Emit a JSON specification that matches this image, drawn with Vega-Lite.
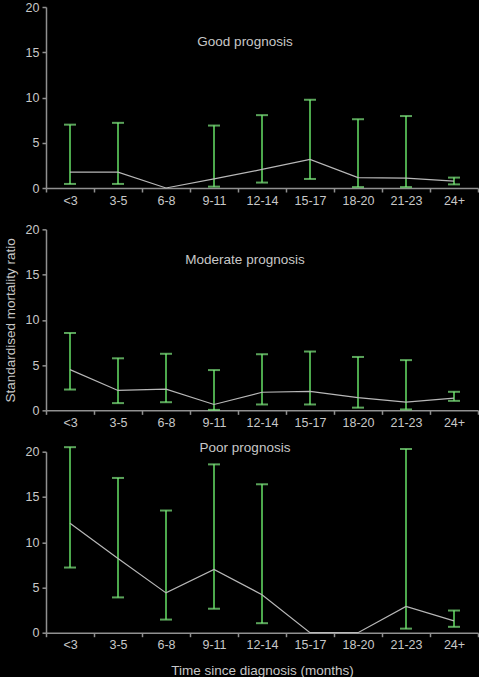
{
  "$schema": "https://vega.github.io/schema/vega-lite/v6.json",
  "background": "black",
  "padding": {"left": 3, "top": 1, "right": 0, "bottom": 0},
  "datasets": {
    "smr": [
      {"panel": "Good prognosis", "period": "<3", "smr": 1.75, "lower": 0.45, "upper": 7.0},
      {"panel": "Good prognosis", "period": "3-5", "smr": 1.75, "lower": 0.45, "upper": 7.2},
      {"panel": "Good prognosis", "period": "6-8", "smr": 0, "lower": null, "upper": null},
      {"panel": "Good prognosis", "period": "9-11", "smr": 1.0, "lower": 0.15, "upper": 6.9},
      {"panel": "Good prognosis", "period": "12-14", "smr": 2.05, "lower": 0.6, "upper": 8.05},
      {"panel": "Good prognosis", "period": "15-17", "smr": 3.15, "lower": 1.0, "upper": 9.75},
      {"panel": "Good prognosis", "period": "18-20", "smr": 1.15, "lower": 0.1, "upper": 7.6},
      {"panel": "Good prognosis", "period": "21-23", "smr": 1.1, "lower": 0.1, "upper": 7.95},
      {"panel": "Good prognosis", "period": "24+", "smr": 0.75, "lower": 0.4, "upper": 1.15},
      {"panel": "Moderate prognosis", "period": "<3", "smr": 4.5, "lower": 2.3, "upper": 8.55},
      {"panel": "Moderate prognosis", "period": "3-5", "smr": 2.2, "lower": 0.8, "upper": 5.75},
      {"panel": "Moderate prognosis", "period": "6-8", "smr": 2.35, "lower": 0.9, "upper": 6.25},
      {"panel": "Moderate prognosis", "period": "9-11", "smr": 0.65, "lower": 0.05, "upper": 4.45},
      {"panel": "Moderate prognosis", "period": "12-14", "smr": 2.0, "lower": 0.65, "upper": 6.2},
      {"panel": "Moderate prognosis", "period": "15-17", "smr": 2.1, "lower": 0.65, "upper": 6.5},
      {"panel": "Moderate prognosis", "period": "18-20", "smr": 1.4, "lower": 0.3, "upper": 5.9},
      {"panel": "Moderate prognosis", "period": "21-23", "smr": 0.9, "lower": 0.1, "upper": 5.55},
      {"panel": "Moderate prognosis", "period": "24+", "smr": 1.35, "lower": 1.05, "upper": 2.05},
      {"panel": "Poor prognosis", "period": "<3", "smr": 12.1, "lower": 7.2, "upper": 20.5},
      {"panel": "Poor prognosis", "period": "3-5", "smr": 8.2, "lower": 3.9, "upper": 17.1},
      {"panel": "Poor prognosis", "period": "6-8", "smr": 4.4, "lower": 1.45, "upper": 13.5},
      {"panel": "Poor prognosis", "period": "9-11", "smr": 7.0, "lower": 2.65, "upper": 18.6},
      {"panel": "Poor prognosis", "period": "12-14", "smr": 4.2, "lower": 1.05, "upper": 16.4},
      {"panel": "Poor prognosis", "period": "15-17", "smr": 0, "lower": null, "upper": null},
      {"panel": "Poor prognosis", "period": "18-20", "smr": 0, "lower": null, "upper": null},
      {"panel": "Poor prognosis", "period": "21-23", "smr": 2.9, "lower": 0.45, "upper": 20.3},
      {"panel": "Poor prognosis", "period": "24+", "smr": 1.3, "lower": 0.65, "upper": 2.45}
    ]
  },
  "spacing": 41.35,
  "bounds": "flush",
  "vconcat": [
    {
      "data": {"name": "smr"},
      "transform": [{"filter": "datum.panel === 'Good prognosis'"}],
      "title": {"text": "Good prognosis", "frame": "group", "baseline": "middle", "offset": -54.5, "dx": -17},
      "width": 432,
      "height": 181,
      "encoding": {
        "x": {
          "field": "period", "type": "ordinal",
          "sort": ["<3", "3-5", "6-8", "9-11", "12-14", "15-17", "18-20", "21-23", "24+"],
          "scale": {"paddingInner": 0, "paddingOuter": 0},
          "axis": {"title": null}
        }
      },
      "layer": [
        {"mark": {"type": "rule", "color": "#66e066", "strokeWidth": 1.5}, "encoding": {"y": {"field": "lower", "type": "quantitative", "scale": {"domain": [0, 20], "nice": false}, "axis": {"values": [0, 5, 10, 15, 20], "title": null}}, "y2": {"field": "upper"}}},
        {"mark": {"type": "tick", "color": "#80e880", "size": 12, "thickness": 2}, "encoding": {"y": {"field": "lower", "type": "quantitative", "axis": {"values": [0, 5, 10, 15, 20], "title": null}}}},
        {"mark": {"type": "tick", "color": "#80e880", "size": 12, "thickness": 2}, "encoding": {"y": {"field": "upper", "type": "quantitative", "axis": {"values": [0, 5, 10, 15, 20], "title": null}}}},
        {"mark": {"type": "line", "color": "#b8b8b8", "strokeWidth": 1.2}, "encoding": {"y": {"field": "smr", "type": "quantitative", "scale": {"domain": [0, 20], "nice": false}, "axis": {"values": [0, 5, 10, 15, 20], "title": null}}}}
      ]
    },
    {
      "data": {"name": "smr"},
      "transform": [{"filter": "datum.panel === 'Moderate prognosis'"}],
      "title": {"text": "Moderate prognosis", "frame": "group", "baseline": "middle", "offset": -50.6, "dx": -17},
      "width": 432,
      "height": 181,
      "encoding": {
        "x": {
          "field": "period", "type": "ordinal",
          "sort": ["<3", "3-5", "6-8", "9-11", "12-14", "15-17", "18-20", "21-23", "24+"],
          "scale": {"paddingInner": 0, "paddingOuter": 0},
          "axis": {"title": null}
        }
      },
      "layer": [
        {"mark": {"type": "rule", "color": "#66e066", "strokeWidth": 1.5}, "encoding": {"y": {"field": "lower", "type": "quantitative", "scale": {"domain": [0, 20], "nice": false}, "axis": {"values": [0, 5, 10, 15, 20], "title": "Standardised mortality ratio"}}, "y2": {"field": "upper"}}},
        {"mark": {"type": "tick", "color": "#80e880", "size": 12, "thickness": 2}, "encoding": {"y": {"field": "lower", "type": "quantitative", "axis": {"values": [0, 5, 10, 15, 20], "title": "Standardised mortality ratio"}}}},
        {"mark": {"type": "tick", "color": "#80e880", "size": 12, "thickness": 2}, "encoding": {"y": {"field": "upper", "type": "quantitative", "axis": {"values": [0, 5, 10, 15, 20], "title": "Standardised mortality ratio"}}}},
        {"mark": {"type": "line", "color": "#b8b8b8", "strokeWidth": 1.2}, "encoding": {"y": {"field": "smr", "type": "quantitative", "scale": {"domain": [0, 20], "nice": false}, "axis": {"values": [0, 5, 10, 15, 20], "title": "Standardised mortality ratio"}}}}
      ]
    },
    {
      "data": {"name": "smr"},
      "transform": [{"filter": "datum.panel === 'Poor prognosis'"}],
      "title": {"text": "Poor prognosis", "frame": "group", "baseline": "middle", "offset": -16, "dx": -17},
      "width": 432,
      "height": 181,
      "encoding": {
        "x": {
          "field": "period", "type": "ordinal",
          "sort": ["<3", "3-5", "6-8", "9-11", "12-14", "15-17", "18-20", "21-23", "24+"],
          "scale": {"paddingInner": 0, "paddingOuter": 0},
          "axis": {"title": "Time since diagnosis (months)"}
        }
      },
      "layer": [
        {"mark": {"type": "rule", "color": "#66e066", "strokeWidth": 1.5}, "encoding": {"y": {"field": "lower", "type": "quantitative", "scale": {"domain": [0, 20], "nice": false}, "axis": {"values": [0, 5, 10, 15, 20], "title": null}}, "y2": {"field": "upper"}}},
        {"mark": {"type": "tick", "color": "#80e880", "size": 12, "thickness": 2}, "encoding": {"y": {"field": "lower", "type": "quantitative", "axis": {"values": [0, 5, 10, 15, 20], "title": null}}}},
        {"mark": {"type": "tick", "color": "#80e880", "size": 12, "thickness": 2}, "encoding": {"y": {"field": "upper", "type": "quantitative", "axis": {"values": [0, 5, 10, 15, 20], "title": null}}}},
        {"mark": {"type": "line", "color": "#b8b8b8", "strokeWidth": 1.2}, "encoding": {"y": {"field": "smr", "type": "quantitative", "scale": {"domain": [0, 20], "nice": false}, "axis": {"values": [0, 5, 10, 15, 20], "title": null}}}}
      ]
    }
  ],
  "config": {
    "font": "Liberation Sans",
    "view": {"stroke": null},
    "title": {"color": "#c8c8c8", "fontSize": 13.5, "fontWeight": "normal", "font": "Liberation Sans"},
    "axis": {
      "grid": false,
      "domainColor": "#909090",
      "domainWidth": 1.5,
      "tickColor": "#909090",
      "tickSize": 4,
      "tickWidth": 1.5,
      "labelColor": "#c8c8c8",
      "labelFont": "Liberation Sans",
      "labelFontSize": 12.5,
      "labelPadding": 2,
      "titleColor": "#c8c8c8",
      "titleFont": "Liberation Sans",
      "titleFontSize": 13.5,
      "titleFontWeight": "normal"
    },
    "axisX": {"labelAngle": 0, "tickBand": "extent", "titlePadding": 12},
    "axisY": {"titlePadding": 8, "labelPadding": 3}
  }
}
